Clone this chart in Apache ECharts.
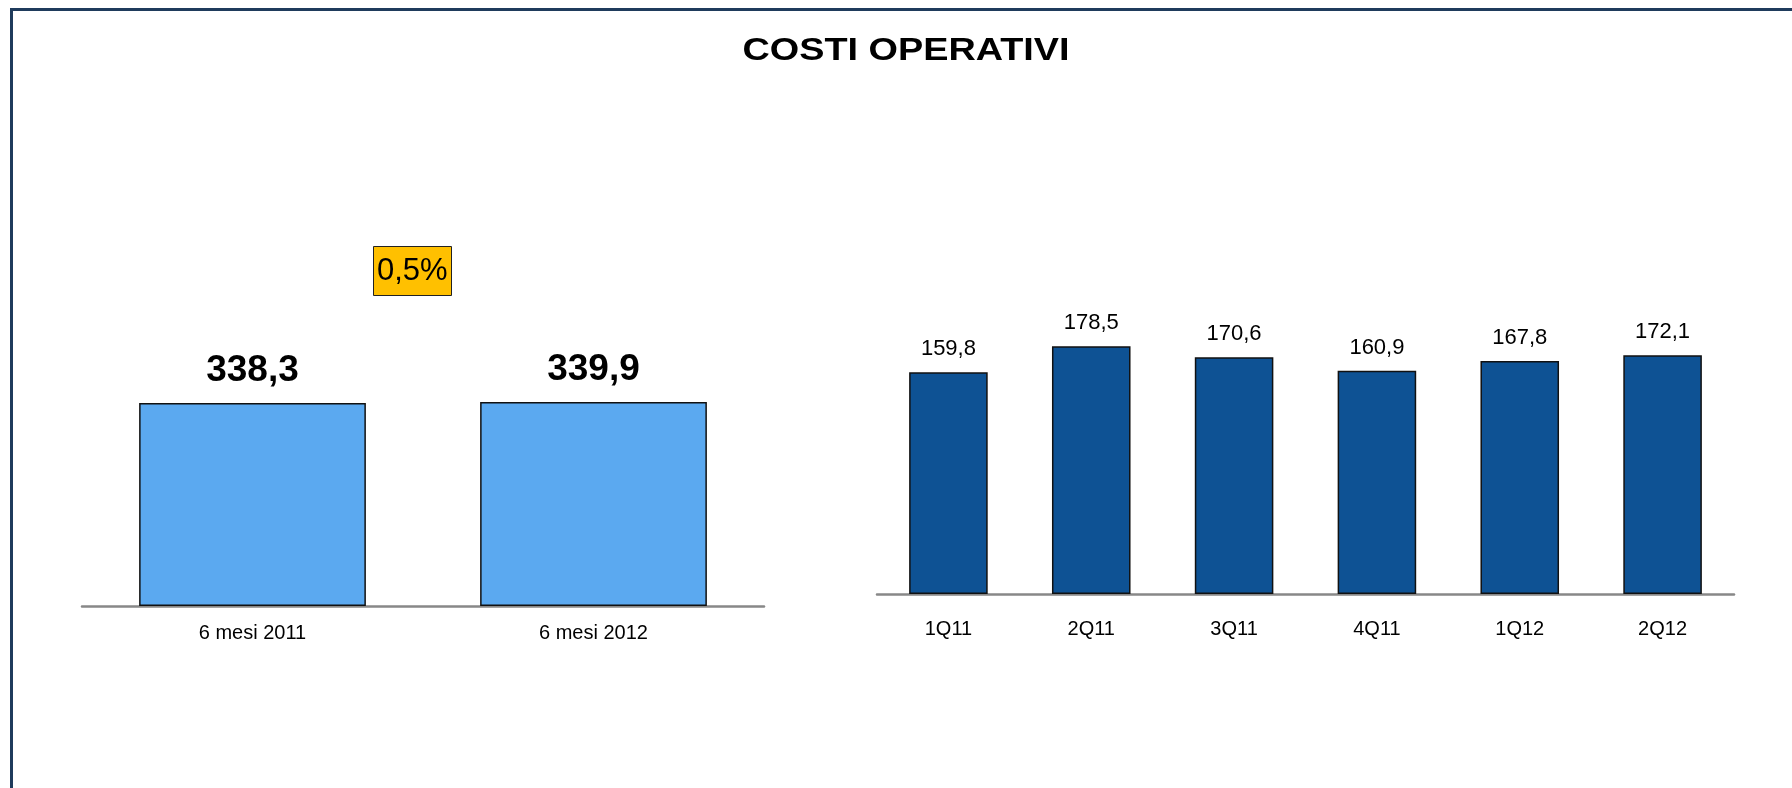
<!DOCTYPE html>
<html>
<head>
<meta charset="utf-8">
<script src="https://cdn.jsdelivr.net/npm/echarts@6/dist/echarts.min.js"></script>
<style>
html,body{margin:0;padding:0;background:#fff;}
#chart{width:1792px;height:788px;}
</style>
</head>
<body>
<div id="chart"></div>
<script>
const chartTitle = 'COSTI OPERATIVI';
const halfCategories = ['6 mesi 2011', '6 mesi 2012'];
const halfValues = [338.3, 339.9];
const quarterCategories = ['1Q11', '2Q11', '3Q11', '4Q11', '1Q12', '2Q12'];
const quarterValues = [159.8, 178.5, 170.6, 160.9, 167.8, 172.1];

const changePct = ((halfValues[1] / halfValues[0]) - 1) * 100;
const changeLabel = changePct.toFixed(1).replace('.', ',') + '%';

const FONT = '"Liberation Sans", Arial, sans-serif';
const fmt = v => v.toFixed(1).replace('.', ',');

const chart = echarts.init(document.getElementById('chart'));
chart.setOption({
  backgroundColor: '#ffffff',
  animation: false,
  title: [
    {
      text: changeLabel, left: 373, top: 246,
      backgroundColor: '#FFC000', borderColor: '#222', borderWidth: 1,
      padding: [9, 4, 9, 4],
      textStyle: { fontFamily: FONT, fontSize: 31, fontWeight: 'normal', color: '#000', lineHeight: 32 }
    }
  ],
  graphic: [
    { type: 'rect', shape: { x: 10, y: 8, width: 1782, height: 3 }, style: { fill: '#1F3B5C' } },
    { type: 'rect', shape: { x: 10, y: 8, width: 3, height: 780 }, style: { fill: '#1F3B5C' } },
    {
      type: 'text', x: 906, y: 51, scaleX: 1.22, scaleY: 1,
      style: {
        text: chartTitle, font: 'bold 31px ' + FONT, fill: '#000',
        align: 'center', verticalAlign: 'middle'
      }
    }
  ],
  grid: [
    { left: 82, right: 1028, top: 246, bottom: 182 },
    { left: 877, right: 58, top: 247, bottom: 194 }
  ],
  xAxis: [
    {
      type: 'category', gridIndex: 0, data: halfCategories,
      axisLine: { lineStyle: { color: '#888888', width: 2.5 } },
      axisTick: { show: false },
      axisLabel: { fontFamily: FONT, fontSize: 20, color: '#000', margin: 17 }
    },
    {
      type: 'category', gridIndex: 1, data: quarterCategories,
      axisLine: { lineStyle: { color: '#888888', width: 2.5 } },
      axisTick: { show: false },
      axisLabel: { fontFamily: FONT, fontSize: 20, color: '#000', margin: 25 }
    }
  ],
  yAxis: [
    { type: 'value', gridIndex: 0, min: 0, max: 600, show: false, splitLine: { show: false } },
    { type: 'value', gridIndex: 1, min: 0, max: 250, show: false, splitLine: { show: false } }
  ],
  series: [
    {
      type: 'bar', xAxisIndex: 0, yAxisIndex: 0, data: halfValues,
      barWidth: '66.5%',
      itemStyle: { color: '#5BA9F0', borderColor: '#111', borderWidth: 1.5 },
      label: {
        show: true, position: 'top', distance: 14,
        formatter: p => fmt(p.value),
        fontFamily: FONT, fontSize: 37, fontWeight: 'bold', color: '#000'
      }
    },
    {
      type: 'bar', xAxisIndex: 1, yAxisIndex: 1, data: quarterValues,
      barWidth: '55%',
      itemStyle: { color: '#0E5294', borderColor: '#111', borderWidth: 1.5 },
      label: {
        show: true, position: 'top', distance: 12,
        formatter: p => fmt(p.value),
        fontFamily: FONT, fontSize: 22, color: '#000'
      }
    }
  ]
});
</script>
</body>
</html>
